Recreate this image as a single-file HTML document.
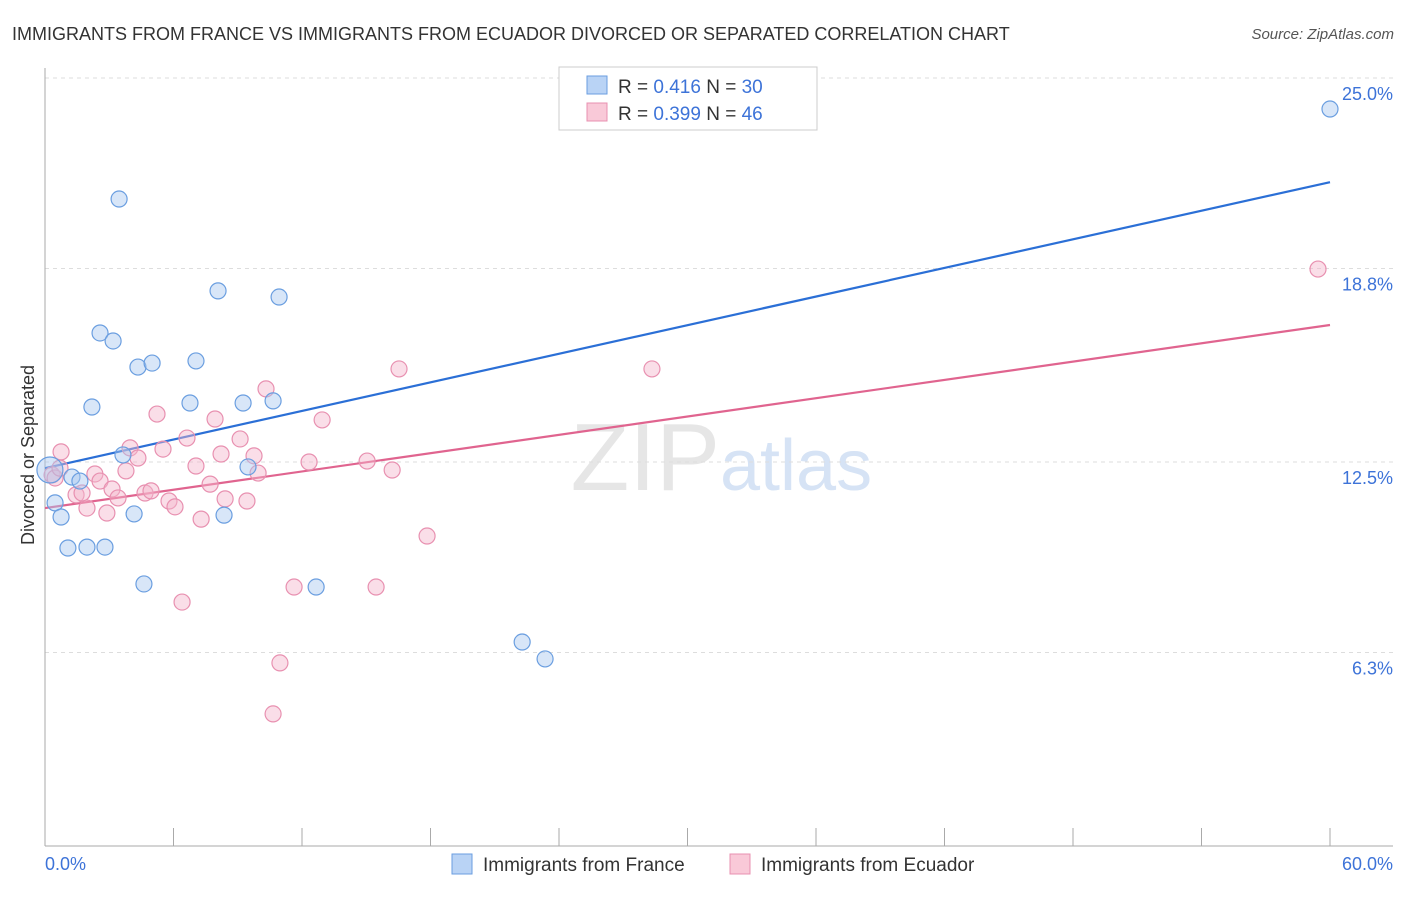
<!DOCTYPE html>
<html><head><meta charset="utf-8"><style>
body{margin:0;background:#fff;font-family:"Liberation Sans",sans-serif;}
svg text{font-family:"Liberation Sans",sans-serif;}
</style></head><body>
<svg id="chart" width="1406" height="892">
<text x="12" y="40" font-size="18" fill="#333">IMMIGRANTS FROM FRANCE VS IMMIGRANTS FROM ECUADOR DIVORCED OR SEPARATED CORRELATION CHART</text>
<text x="1394" y="39" font-size="15" fill="#555" font-style="italic" text-anchor="end">Source: ZipAtlas.com</text>
<text x="720" y="490" font-size="96" fill="#e6e6e6" text-anchor="end" font-family="Liberation Serif">ZIP</text>
<text x="720" y="490" font-size="72" fill="#d6e3f5">atlas</text>
<text transform="translate(34,455) rotate(-90)" font-size="18" fill="#333" text-anchor="middle">Divorced or Separated</text>
<g id="grid"></g><g id="axes"></g><g id="lines"></g><g id="pts"></g>
<g>
<rect x="559" y="67" width="258" height="63" fill="#fff" stroke="#ccc"/>
<rect x="587" y="76" width="20" height="18" fill="#b9d3f5" stroke="#6a9ee0"/>
<rect x="587" y="103" width="20" height="18" fill="#f9c9d8" stroke="#e890b0"/>
<text x="618" y="93" font-size="19" fill="#333">R = <tspan fill="#3d73d8">0.416</tspan>   N = <tspan fill="#3d73d8">30</tspan></text>
<text x="618" y="120" font-size="19" fill="#333">R = <tspan fill="#3d73d8">0.399</tspan>   N = <tspan fill="#3d73d8">46</tspan></text>
</g>
<g>
<rect x="452" y="854" width="20" height="20" fill="#b9d3f5" stroke="#6a9ee0"/>
<text x="483" y="871" font-size="19" fill="#333">Immigrants from France</text>
<rect x="730" y="854" width="20" height="20" fill="#f9c9d8" stroke="#e890b0"/>
<text x="761" y="871" font-size="19" fill="#333">Immigrants from Ecuador</text>
</g>
</svg>
<script>
const yTicks=[6.3,12.5,18.8,25.0];
const yTickLabels=["6.3%","12.5%","18.8%","25.0%"];
const xTickLabels=["0.0%","60.0%"];
const franceX=[0.23,0.47,0.75,1.07,1.96,2.80,1.26,1.63,2.19,2.57,3.18,3.46,4.34,5.00,3.64,4.16,4.62,6.77,7.05,8.08,8.36,9.25,9.48,10.65,10.93,12.66,22.28,23.35,31.24,60.0];
const franceY=[12.24,11.17,10.71,9.70,9.73,9.73,12.01,11.88,14.29,16.70,16.44,21.06,15.59,15.72,12.73,10.81,8.53,14.42,15.79,18.07,10.77,14.42,12.34,14.49,17.87,8.43,6.64,6.09,24.97,23.99];
const ecuadorX=[0.33,0.75,0.47,1.45,1.73,1.96,2.33,2.57,2.89,3.13,3.41,3.78,3.97,4.34,4.67,4.95,5.23,5.51,5.79,6.07,6.40,6.63,7.05,7.29,7.71,7.94,8.22,8.41,9.11,9.43,9.76,9.95,10.32,10.65,10.97,11.63,12.33,12.94,15.04,15.46,16.21,16.53,17.84,28.34,59.44,0.70];
const ecuadorY=[12.08,12.83,11.98,11.43,11.49,11.00,12.11,11.88,10.84,11.62,11.33,12.21,12.96,12.63,11.49,11.56,14.06,12.92,11.23,11.04,7.94,13.28,12.37,10.64,11.78,13.90,12.76,11.30,13.25,11.23,12.70,12.14,14.88,4.30,5.96,8.43,12.50,13.87,12.53,8.43,12.24,15.53,10.09,15.53,18.78,12.30];
const franceTrend=[12.30,21.61];
const ecuadorTrend=[11.0,16.96];
const NS="http://www.w3.org/2000/svg";
const X=v=>45+v/60*1285, Y=v=>846-v*30.72;
function mk(p,t,a){const e=document.createElementNS(NS,t);for(const k in a)e.setAttribute(k,a[k]);document.getElementById(p).appendChild(e);return e;}
yTicks.forEach((t,i)=>{
 let g=mk('grid','line',{x1:45,x2:1393,y1:Y(t),y2:Y(t),stroke:'#ddd','stroke-dasharray':'4,4'});
 
 
 let l=mk('axes','text',{x:1393,y:Y(t)+22,'font-size':18,fill:'#3d73d8','text-anchor':'end'});
 l.textContent=yTickLabels[i];
 
 
});
let ya=mk('axes','line',{x1:45,x2:45,y1:68,y2:846,stroke:'#aaa'});


let xa=mk('axes','line',{x1:45,x2:1393,y1:846,y2:846,stroke:'#aaa'});


for(let i=0;i<=10;i++){let t=mk('axes','line',{x1:X(i*6),x2:X(i*6),y1:828,y2:846,stroke:'#aaa'});
 
 }
[[0,'start',45],[1,'end',1393]].forEach(([i,a,x])=>{let t=mk('axes','text',{x:x,y:870,'font-size':18,fill:'#3d73d8','text-anchor':a});t.textContent=xTickLabels[i];
 
 });
function pts(xs,ys,fill,stroke,name){xs.forEach((x,i)=>{let c=mk('pts','circle',{cx:X(x),cy:Y(ys[i]),r:(i==0&&name=='france-point')?13:8,fill:fill,stroke:stroke,'stroke-width':1.2});
 
 });}
pts(ecuadorX,ecuadorY,'rgba(245,182,204,0.45)','#e890b0','ecuador-point');
pts(franceX,franceY,'rgba(168,199,240,0.45)','#6a9ee0','france-point');
let l1=mk('lines','line',{x1:X(0),y1:Y(franceTrend[0]),x2:X(60),y2:Y(franceTrend[1]),stroke:'#2b6fd6','stroke-width':2.2});


let l2=mk('lines','line',{x1:X(0),y1:Y(ecuadorTrend[0]),x2:X(60),y2:Y(ecuadorTrend[1]),stroke:'#e0648f','stroke-width':2.2});


</script>
</body></html>
